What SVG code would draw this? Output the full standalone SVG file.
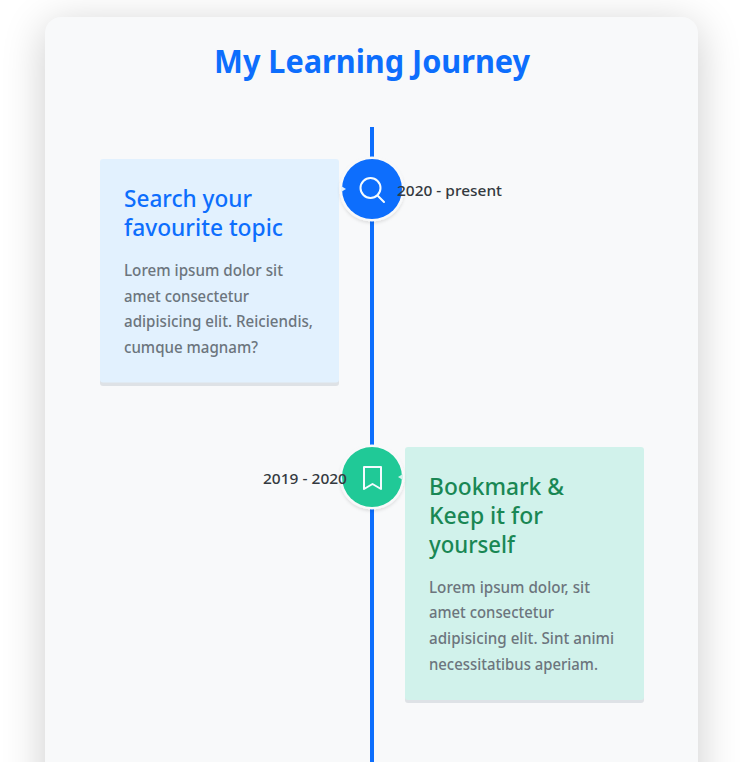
<svg xmlns="http://www.w3.org/2000/svg" width="741" height="762" viewBox="0 0 741 762">
<style>
text{font-family:"Noto Sans","Open Sans","Liberation Sans",sans-serif}
.title{font-size:32px;font-weight:700;fill:#0d6efd}
.h{font-size:23.500px;font-weight:500}
.p{font-size:15.500px;font-weight:500;fill:#6c757d}
.date{font-size:15px;font-weight:500;fill:#343a40}
.halo{fill:#f8f9fa;stroke:none;filter:url(#ds)}
.ic{fill:none;stroke:#f4fbff;stroke-width:2}
</style>
<defs>
<filter id="big" x="-20%" y="-20%" width="140%" height="140%"><feGaussianBlur stdDeviation="22"/></filter>
<filter id="ds" x="-30%" y="-30%" width="160%" height="160%"><feDropShadow dx="0" dy="2" stdDeviation="1.500" flood-color="#000" flood-opacity=".1"/></filter>
</defs>
<rect width="741" height="762" fill="#fff"/>
<g id="panel">
<rect x="45" y="25" width="653" height="800" rx="16" fill="#000" opacity=".2" filter="url(#big)"/>
<rect x="45" y="17" width="653" height="800" rx="16" fill="#f8f9fa"/>
<text class="title" x="214" y="73" textLength="316" lengthAdjust="spacingAndGlyphs">My Learning Journey</text>
</g>
<g id="connectors"><rect x="370" y="127" width="4" height="635" fill="#0d6efd"/></g>
<g id="card-1">
<rect x="100" y="163" width="239" height="223" rx="3" fill="#dee2e6"/>
<rect x="100" y="159" width="239" height="223.500" rx="3" fill="#e2f1fe"/>
<text class="h" fill="#0d6efd"><tspan x="124" y="207" textLength="128" lengthAdjust="spacingAndGlyphs">Search your</tspan><tspan x="124" y="236" textLength="159" lengthAdjust="spacingAndGlyphs">favourite topic</tspan></text>
<text class="p"><tspan x="124" y="276" textLength="159" lengthAdjust="spacingAndGlyphs">Lorem ipsum dolor sit</tspan><tspan x="124" y="302" textLength="125" lengthAdjust="spacingAndGlyphs">amet consectetur</tspan><tspan x="124" y="327" textLength="189" lengthAdjust="spacingAndGlyphs">adipisicing elit. Reiciendis,</tspan><tspan x="124" y="353" textLength="134" lengthAdjust="spacingAndGlyphs">cumque magnam?</tspan></text>
</g>
<g id="node-1">
<circle class="halo" cx="372" cy="189" r="32.500"/>
<circle cx="372" cy="189" r="30" fill="#0d6efd"/>
<path d="M341 186l5 3-5 3z" fill="#e2f1fe"/>
<circle class="ic" cx="370.500" cy="188" r="10"/><path class="ic" d="M378 196l6 6" stroke-linecap="round" stroke-width="2.500"/>
<text class="date" x="397" y="196" textLength="105" lengthAdjust="spacingAndGlyphs">2020 - present</text>
</g>
<g id="card-2">
<rect x="405" y="450" width="239" height="253" rx="3" fill="#dee2e6"/>
<rect x="405" y="447" width="239" height="253" rx="3" fill="#d1f2eb"/>
<text class="h" fill="#198754"><tspan x="429" y="495" textLength="135" lengthAdjust="spacingAndGlyphs">Bookmark &amp;</tspan><tspan x="429" y="524" textLength="114" lengthAdjust="spacingAndGlyphs">Keep it for</tspan><tspan x="429" y="553" textLength="86" lengthAdjust="spacingAndGlyphs">yourself</tspan></text>
<text class="p"><tspan x="429" y="593" textLength="161" lengthAdjust="spacingAndGlyphs">Lorem ipsum dolor, sit</tspan><tspan x="429" y="618" textLength="125" lengthAdjust="spacingAndGlyphs">amet consectetur</tspan><tspan x="429" y="644" textLength="185" lengthAdjust="spacingAndGlyphs">adipisicing elit. Sint animi</tspan><tspan x="429" y="670" textLength="169" lengthAdjust="spacingAndGlyphs">necessitatibus aperiam.</tspan></text>
</g>
<g id="node-2">
<circle class="halo" cx="372" cy="477" r="32.500"/>
<circle cx="372" cy="477" r="30" fill="#20c997"/>
<path d="M403 474l-5 3 5 3z" fill="#d1f2eb"/>
<path class="ic" d="M364 467h17v22l-8.500-5-8.500 5z" stroke-linejoin="round"/>
<text class="date" x="263" y="484" textLength="84" lengthAdjust="spacingAndGlyphs">2019 - 2020</text>
</g>
</svg>
